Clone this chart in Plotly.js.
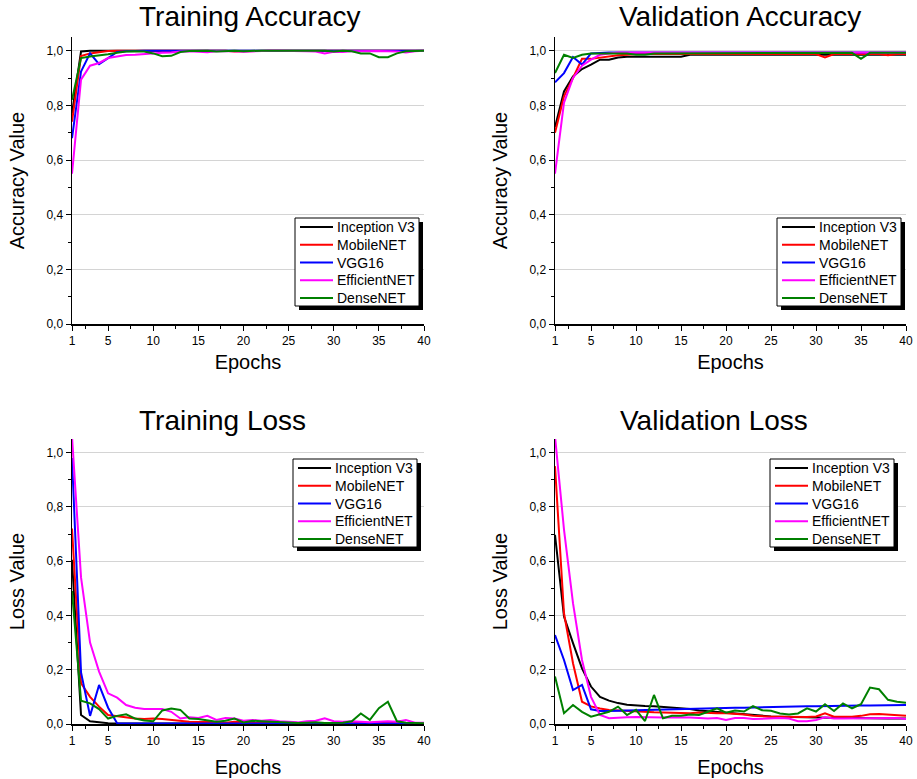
<!DOCTYPE html>
<html><head><meta charset="utf-8">
<script src="https://cdn.plot.ly/plotly-3.0.1.min.js"></script>
<style>html,body{margin:0;padding:0;background:#fff;}</style>
</head><body>
<div id="chart" style="width:917px;height:779px;"></div>
<script>
const epochs = [1,2,3,4,5,6,7,8,9,10,11,12,13,14,15,16,17,18,19,20,21,22,23,24,25,26,27,28,29,30,31,32,33,34,35,36,37,38,39,40];
const models = ["Inception V3","MobileNET","VGG16","EfficientNET","DenseNET"];
const panelTitles = ["Training Accuracy","Validation Accuracy","Training Loss","Validation Loss"];
const yTitles = ["Accuracy Value","Accuracy Value","Loss Value","Loss Value"];
const xTickVals = [1,5,10,15,20,25,30,35,40];
const yTickVals = [0,0.2,0.4,0.6,0.8,1.0];

// Training accuracy
const TA_inception = [0.77,0.997,1.0,1.0,1.0,1.0,1.0,1.0,1.0,1.0,1.0,1.0,1.0,1.0,1.0,1.0,1.0,1.0,1.0,1.0,1.0,1.0,1.0,1.0,1.0,1.0,1.0,1.0,1.0,1.0,1.0,1.0,1.0,1.0,1.0,1.0,1.0,1.0,1.0,1.0];
const TA_mobile = [0.74,0.98,0.99,0.995,0.999,1.0,1.0,1.0,1.0,1.0,1.0,1.0,1.0,1.0,1.0,1.0,1.0,1.0,0.997,0.998,1.0,1.0,1.0,1.0,1.0,1.0,1.0,1.0,0.998,1.0,1.0,1.0,1.0,1.0,1.0,1.0,1.0,1.0,1.0,1.0];
const TA_vgg = [0.68,0.924,0.99,0.951,0.973,0.995,0.998,1.0,1.0,1.0,1.0,1.0,1.0,1.0,1.0,1.0,1.0,1.0,1.0,1.0,1.0,1.0,1.0,1.0,1.0,1.0,1.0,1.0,1.0,1.0,1.0,1.0,1.0,1.0,1.0,1.0,1.0,1.0,1.0,1.0];
const TA_eff = [0.55,0.894,0.945,0.955,0.973,0.979,0.984,0.985,0.988,0.99,0.992,0.993,0.997,0.998,0.997,0.994,0.998,0.999,0.998,0.996,0.998,0.999,1.0,1.0,1.0,0.999,0.998,0.997,0.99,0.996,0.995,0.998,0.999,0.998,0.999,0.998,0.997,0.993,0.998,1.0];
const TA_dense = [0.82,0.973,0.979,0.982,0.987,0.992,0.997,0.998,0.997,0.99,0.98,0.981,0.995,0.999,1.0,1.0,0.997,0.999,1.0,0.998,1.0,1.0,1.0,1.0,1.0,1.0,1.0,0.998,1.0,0.997,1.0,0.998,0.99,0.99,0.976,0.976,0.99,0.998,1.0,1.0];

// Validation accuracy
const VA_inception = [0.72,0.851,0.906,0.933,0.949,0.967,0.967,0.975,0.978,0.978,0.978,0.978,0.978,0.978,0.978,0.985,0.985,0.985,0.985,0.985,0.985,0.985,0.985,0.985,0.985,0.985,0.985,0.985,0.985,0.985,0.985,0.985,0.985,0.985,0.985,0.985,0.985,0.985,0.985,0.985];
const VA_mobile = [0.70,0.833,0.90,0.97,0.97,0.975,0.98,0.983,0.985,0.988,0.988,0.988,0.988,0.988,0.988,0.988,0.988,0.988,0.988,0.988,0.988,0.988,0.988,0.988,0.988,0.988,0.988,0.988,0.988,0.988,0.975,0.988,0.988,0.988,0.988,0.988,0.988,0.983,0.988,0.988];
const VA_vgg = [0.884,0.918,0.977,0.949,0.99,0.992,0.993,0.993,0.993,0.993,0.993,0.993,0.993,0.993,0.993,0.993,0.993,0.993,0.993,0.993,0.993,0.993,0.993,0.993,0.993,0.993,0.993,0.993,0.993,0.993,0.993,0.993,0.993,0.993,0.993,0.993,0.993,0.993,0.993,0.993];
const VA_eff = [0.55,0.81,0.90,0.945,0.967,0.985,0.99,0.993,0.993,0.993,0.993,0.993,0.993,0.993,0.993,0.993,0.993,0.993,0.993,0.993,0.993,0.993,0.993,0.993,0.993,0.993,0.993,0.993,0.993,0.993,0.993,0.993,0.993,0.993,0.995,0.993,0.993,0.993,0.993,0.993];
const VA_dense = [0.918,0.985,0.973,0.985,0.99,0.99,0.99,0.99,0.99,0.985,0.985,0.99,0.99,0.99,0.992,0.992,0.992,0.992,0.992,0.992,0.992,0.992,0.992,0.992,0.992,0.992,0.992,0.992,0.992,0.992,0.992,0.992,0.992,0.992,0.97,0.992,0.992,0.992,0.992,0.992];

// Training loss
const TL_inception = [0.605,0.033,0.01,0.006,0.003,0.002,0.002,0.001,0.001,0.001,0.001,0.001,0.001,0.001,0.001,0.001,0.001,0.001,0.001,0.001,0.001,0.001,0.001,0.001,0.001,0.001,0.001,0.001,0.001,0.001,0.001,0.001,0.001,0.001,0.001,0.001,0.001,0.001,0.001,0.001];
const TL_mobile = [0.72,0.15,0.10,0.064,0.033,0.028,0.025,0.02,0.018,0.02,0.018,0.015,0.01,0.008,0.007,0.008,0.006,0.005,0.008,0.005,0.004,0.004,0.004,0.004,0.004,0.004,0.004,0.004,0.005,0.004,0.004,0.005,0.006,0.004,0.004,0.004,0.004,0.006,0.005,0.004];
const TL_vgg = [0.98,0.19,0.03,0.144,0.06,0.003,0.002,0.002,0.002,0.002,0.002,0.002,0.002,0.002,0.002,0.002,0.002,0.002,0.002,0.002,0.002,0.002,0.002,0.002,0.002,0.002,0.002,0.002,0.002,0.002,0.002,0.002,0.002,0.002,0.002,0.002,0.002,0.002,0.002,0.002];
const TL_eff = [1.06,0.54,0.30,0.193,0.113,0.097,0.07,0.06,0.055,0.055,0.055,0.045,0.02,0.025,0.022,0.03,0.015,0.022,0.02,0.012,0.015,0.012,0.015,0.01,0.008,0.006,0.01,0.012,0.021,0.01,0.008,0.01,0.008,0.006,0.008,0.01,0.008,0.015,0.005,0.005];
const TL_dense = [0.49,0.086,0.076,0.055,0.02,0.03,0.036,0.02,0.013,0.01,0.05,0.057,0.052,0.02,0.018,0.012,0.008,0.012,0.02,0.006,0.012,0.01,0.008,0.006,0.005,0.004,0.005,0.006,0.004,0.004,0.005,0.01,0.039,0.015,0.058,0.082,0.01,0.005,0.004,0.003];

// Validation loss
const VL_inception = [0.697,0.396,0.298,0.205,0.138,0.10,0.086,0.077,0.071,0.068,0.066,0.065,0.063,0.06,0.058,0.055,0.05,0.047,0.045,0.042,0.04,0.037,0.034,0.03,0.028,0.027,0.026,0.025,0.024,0.023,0.023,0.022,0.022,0.022,0.021,0.021,0.021,0.02,0.02,0.02];
const VL_mobile = [0.95,0.408,0.224,0.082,0.065,0.057,0.052,0.05,0.048,0.045,0.044,0.043,0.042,0.041,0.04,0.04,0.042,0.04,0.04,0.04,0.038,0.035,0.03,0.028,0.027,0.027,0.026,0.026,0.026,0.028,0.039,0.027,0.026,0.027,0.03,0.036,0.037,0.035,0.033,0.03];
const VL_vgg = [0.328,0.236,0.125,0.144,0.054,0.048,0.048,0.05,0.05,0.051,0.052,0.053,0.054,0.055,0.055,0.056,0.057,0.058,0.058,0.059,0.06,0.06,0.061,0.062,0.062,0.063,0.064,0.064,0.065,0.065,0.066,0.066,0.067,0.067,0.068,0.068,0.069,0.069,0.07,0.07];
const VL_eff = [1.06,0.716,0.445,0.236,0.10,0.033,0.021,0.024,0.025,0.026,0.025,0.025,0.024,0.025,0.025,0.024,0.022,0.02,0.022,0.015,0.022,0.022,0.018,0.02,0.022,0.022,0.02,0.01,0.01,0.015,0.025,0.02,0.02,0.02,0.022,0.02,0.022,0.02,0.022,0.018];
const VL_dense = [0.175,0.04,0.07,0.045,0.027,0.035,0.045,0.064,0.033,0.052,0.011,0.107,0.021,0.03,0.03,0.035,0.033,0.045,0.058,0.042,0.05,0.046,0.066,0.051,0.049,0.039,0.035,0.039,0.058,0.046,0.073,0.048,0.076,0.058,0.073,0.134,0.128,0.089,0.082,0.078];

const panelData = [
  [TA_inception, TA_mobile, TA_vgg, TA_eff, TA_dense],
  [VA_inception, VA_mobile, VA_vgg, VA_eff, VA_dense],
  [TL_inception, TL_mobile, TL_vgg, TL_eff, TL_dense],
  [VL_inception, VL_mobile, VL_vgg, VL_eff, VL_dense]
];
const colors = ["#000000","#ff0000","#0000ff","#ff00ff","#008000"];

const W = 917, H = 779;
// plot areas in pixels [left, right, top, bottom]
const boxes = [[72,424,37,324],[555,906,37,324],[72,424,439,724],[555,906,439,724]];
// title left edge and cap-centre (pixels)
const titlePos = [[137,17],[617,17],[137,421],[618,421]];
// x-title standoff per panel
const xStandoff = [8, 8, 13, 13];
// legend boxes: left, top (pixels)
const legPos = [[295,218],[777,218],[293,459],[770,459]];
const LEG_W = 124, LEG_H = 88;
const FONT = "Liberation Sans, Arial, sans-serif";

const px = v => v / W;
const py = v => (H - v) / H;

const traces = [];
panelData.forEach((series, p) => {
  series.forEach((vals, m) => {
    traces.push({
      x: epochs, y: vals, type: "scatter", mode: "lines",
      name: models[m], showlegend: false,
      line: {color: colors[m], width: 2},
      xaxis: p === 0 ? "x" : "x" + (p + 1),
      yaxis: p === 0 ? "y" : "y" + (p + 1)
    });
  });
});

const layout = {
  width: W, height: H,
  margin: {l: 0, r: 0, t: 0, b: 0},
  paper_bgcolor: "#fff", plot_bgcolor: "#fff",
  separators: ",.",
  showlegend: false,
  font: {family: FONT, color: "#000", size: 12},
  annotations: [], shapes: []
};

const minorX = [2.5,7.5,12.5,17.5,22.5,27.5,32.5,37.5];
const minorY = [0.1,0.3,0.5,0.7,0.9];

boxes.forEach((b, p) => {
  const suf = p === 0 ? "" : String(p + 1);
  const xd = [px(b[0]), px(b[1])];
  const yd = [py(b[3]), py(b[2])];
  layout["xaxis" + suf] = {
    domain: xd, anchor: "y" + suf, range: [1, 40],
    tickmode: "array", tickvals: xTickVals, ticks: "outside", ticklen: 5, tickwidth: 1, tickcolor: "#000",
    showline: true, linecolor: "#000", linewidth: 1.5, zeroline: false, showgrid: false,
    minor: {tickmode: "array", tickvals: minorX, ticks: "outside", ticklen: 3, tickcolor: "#000", showgrid: false},
    tickfont: {size: 12, family: FONT},
    automargin: false,
    title: {text: "Epochs", font: {size: 20, family: FONT}, standoff: xStandoff[p]}
  };
  layout["yaxis" + suf] = {
    domain: yd, anchor: "x" + suf, range: [0, 1.05],
    tickmode: "array", tickvals: yTickVals, tickformat: ".1f",
    ticks: "outside", ticklen: 5, tickwidth: 1, tickcolor: "#000",
    showline: true, linecolor: "#000", linewidth: 1.5, zeroline: false,
    showgrid: true, gridcolor: "#d4d4d4", gridwidth: 1,
    minor: {tickmode: "array", tickvals: minorY, ticks: "outside", ticklen: 3, tickcolor: "#000", showgrid: false},
    tickfont: {size: 12, family: FONT},
    automargin: false,
    title: {text: yTitles[p], font: {size: 20, family: FONT}, standoff: 16}
  };
  // panel title
  const tp = titlePos[p];
  layout.annotations.push({
    xref: "paper", yref: "paper", x: px(tp[0]), y: py(tp[1]),
    xanchor: "left", yanchor: "middle", showarrow: false,
    text: panelTitles[p], font: {size: 28, family: FONT, color: "#000"}
  });
  // legend: shadow, frame, samples, labels
  const lp = legPos[p];
  layout.shapes.push({
    type: "rect", xref: "paper", yref: "paper", layer: "above",
    x0: px(lp[0] + 4), x1: px(lp[0] + LEG_W + 4), y0: py(lp[1] + LEG_H + 4), y1: py(lp[1] + 4),
    fillcolor: "#000", line: {width: 0}
  });
  layout.shapes.push({
    type: "rect", xref: "paper", yref: "paper", layer: "above",
    x0: px(lp[0]), x1: px(lp[0] + LEG_W), y0: py(lp[1] + LEG_H), y1: py(lp[1]),
    fillcolor: "#fff", line: {color: "#000", width: 1}
  });
  models.forEach((name, m) => {
    const rowY = lp[1] + 9 + m * 17.75;
    layout.shapes.push({
      type: "line", xref: "paper", yref: "paper", layer: "above",
      x0: px(lp[0] + 5), x1: px(lp[0] + 38), y0: py(rowY), y1: py(rowY),
      line: {color: colors[m], width: 2}
    });
    layout.annotations.push({
      xref: "paper", yref: "paper", x: px(lp[0] + 40), y: py(rowY),
      xanchor: "left", yanchor: "middle", showarrow: false,
      text: name, font: {size: 14, family: FONT, color: "#000"}
    });
  });
});

Plotly.newPlot("chart", traces, layout, {displayModeBar: false, staticPlot: true});
</script>
</body></html>
